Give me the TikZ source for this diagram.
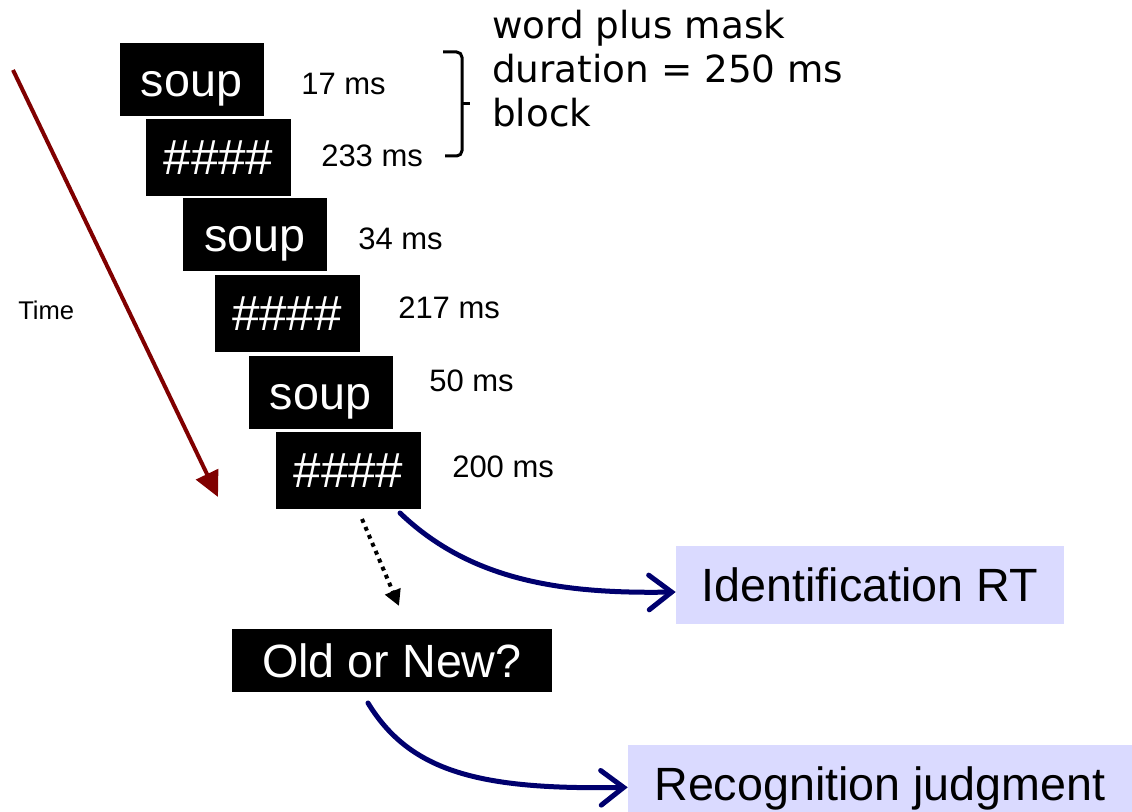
\documentclass[tikz,border=0pt]{standalone}
\usepackage{fontspec}
\setmainfont{Liberation Sans}
\newfontfamily\dejavu{DejaVu Sans}
\usetikzlibrary{arrows.meta}
\definecolor{timered}{RGB}{128,0,0}
\definecolor{navyarrow}{RGB}{0,0,110}
\definecolor{lavender}{RGB}{218,218,255}
\tikzset{
  stim/.style={fill=black, text=white, inner sep=0pt,
    font=\fontsize{35}{42}\selectfont, text height=32pt, text depth=7pt},
  wordbox/.style={stim, minimum width=108pt, minimum height=54.75pt},
  maskbox/.style={stim, minimum width=108.75pt, minimum height=57.75pt},
  resp/.style={fill=lavender, text=black, inner sep=0pt,
    font=\fontsize{35}{42}\selectfont, text height=32pt, text depth=7pt,
    minimum height=58.5pt},
  durlabel/.style={anchor=base west, inner sep=0pt, font=\fontsize{23.25}{28}\selectfont},
  outarrow/.style={navyarrow, line width=3.75pt, line cap=round,
    -{Straight Barb[length=17pt,width=26pt,line width=3.75pt,line cap=round]}},
}
\begin{document}
\begin{tikzpicture}[x=0.75pt,y=-0.75pt]
\useasboundingbox (0,0) rectangle (1132,812);

% stimulus boxes
\node[wordbox] (soupA) at (191.5,79.5) {soup};
\node[maskbox] (hashA) at (218.5,157.5) {\fontsize{37}{42}\selectfont\#\#\#\#};
\node[wordbox] (soupB) at (255,234.5) {soup};
\node[maskbox] (hashB) at (287,313.5) {\fontsize{37}{42}\selectfont\#\#\#\#};
\node[wordbox] (soupC) at (320.5,392.5) {soup};
\node[maskbox] (hashC) at (348.5,471) {\fontsize{37}{42}\selectfont\#\#\#\#};

% durations
\node[durlabel] (dA) at (301,95) {17 ms};
\node[durlabel] (dB) at (321,167) {233 ms};
\node[durlabel] (dC) at (358,250) {34 ms};
\node[durlabel] (dD) at (398,319) {217 ms};
\node[durlabel] (dE) at (429,392) {50 ms};
\node[durlabel] (dF) at (452,478) {200 ms};

% bracket
\draw[line width=2.25pt, rounded corners=4pt] (443,52) -- (462,52) -- (462,156) -- (445,156);
\draw[line width=2.25pt] (462,104) -- (470,104);

% block note
\node[anchor=north west, inner sep=0pt, align=left,
  font=\dejavu\fontsize{28}{33}\selectfont] (note) at (492,10)
  {word plus mask\\duration = 250 ms\\block};

% time arrow
\coordinate (tA) at (13,70);
\coordinate (tB) at (218,497);
\draw[timered, line width=3pt, -{Triangle[length=19pt,width=18pt]}] (tA) -- (tB);
\node[anchor=base west, inner sep=0pt, font=\fontsize{19.2}{23}\selectfont] (time) at (18,320) {Time};

% responses
\node[stim, minimum width=240pt, minimum height=47.25pt] (old) at (392,660.5) {Old or New?};
\node[resp, minimum width=291pt] (ident) at (870,585) {Identification RT};
\node[resp, minimum width=378pt] (recog) at (880,784) {Recognition judgment};

% dotted arrow
\coordinate (dS) at (362,519);
\coordinate (dT) at (399,606);
\draw[line width=3pt, dash pattern=on 3pt off 3.5pt,
  -{Triangle[length=12pt,width=12pt]}] (dS) -- (dT);

% curved arrows
\coordinate (iS) at (400,513);
\draw[outarrow] (iS) .. controls (470,580) and (560,594) .. ([yshift=-5.25pt]ident.west);
\coordinate (rS) at (368,703);
\draw[outarrow] (rS) .. controls (410,772) and (480,790) .. ([yshift=-2.5pt]recog.west);
\end{tikzpicture}
\end{document}
